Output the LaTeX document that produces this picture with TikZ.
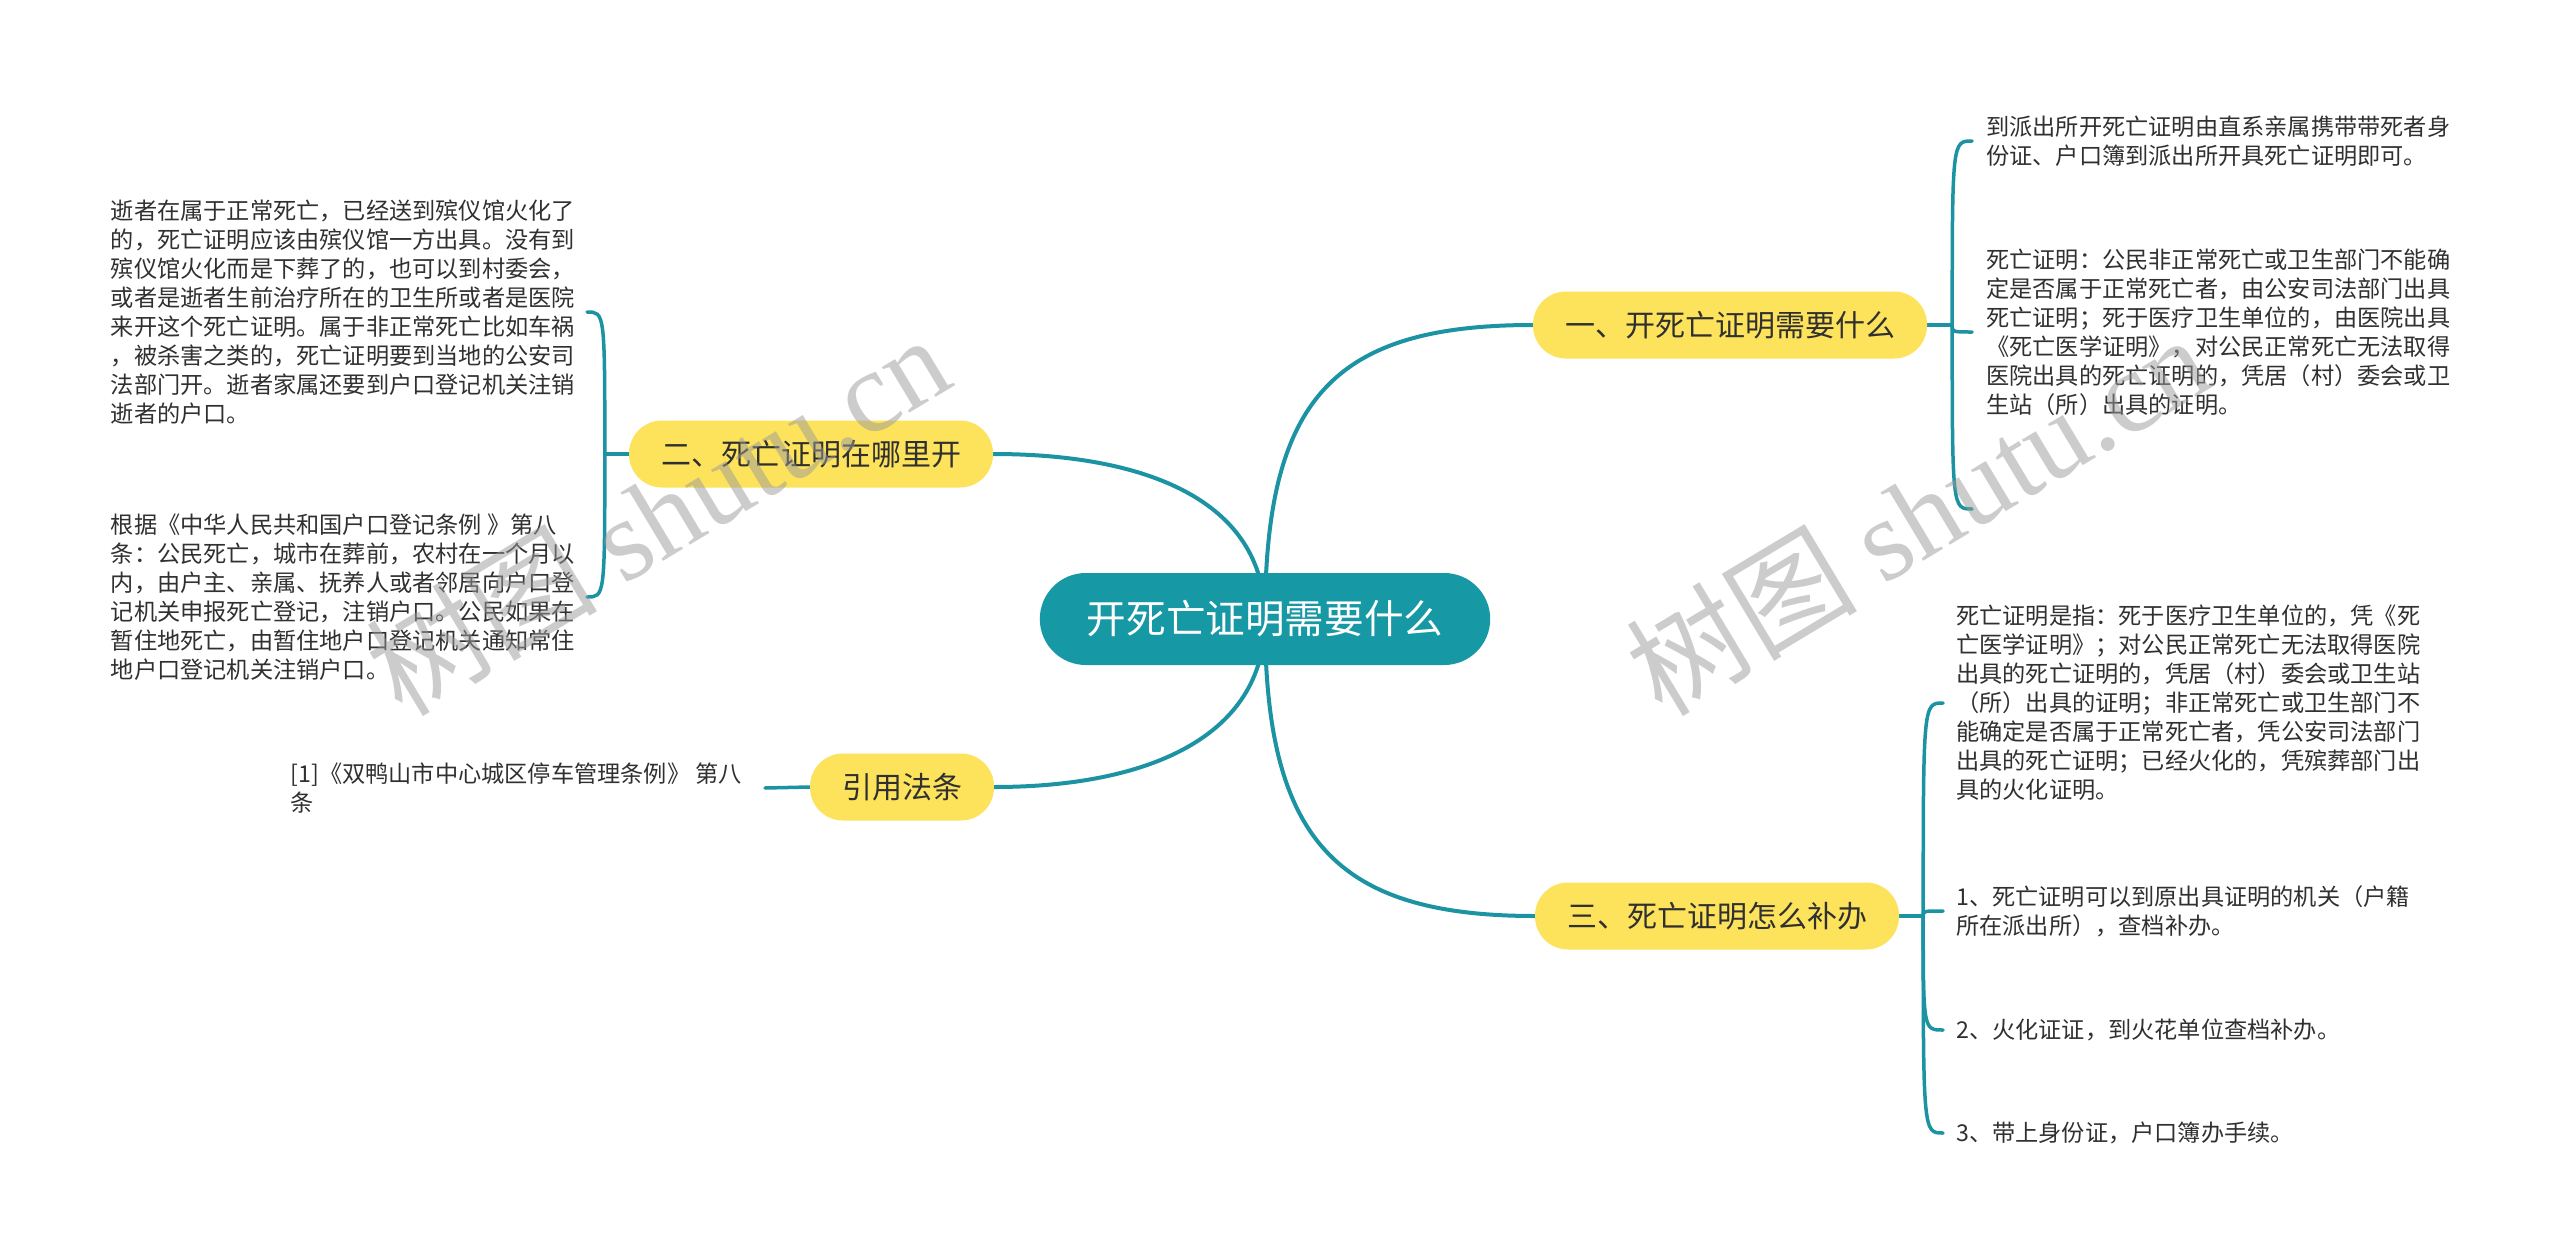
\documentclass[tikz,border=0pt]{standalone}
\usepackage{fontspec}
\setmainfont{Noto Sans CJK SC}
\newfontfamily\wmlatin{Liberation Serif}
\usetikzlibrary{calc}
\pgfdeclarelayer{bg}
\pgfdeclarelayer{paper}
\pgfsetlayers{paper,bg,main}
\definecolor{teal1}{HTML}{1798A5}
\definecolor{line1}{HTML}{1B93A3}
\definecolor{yel}{HTML}{FDE35C}
\definecolor{txt}{HTML}{303030}
\definecolor{wm}{HTML}{9A9A9A}
\begin{document}
\begin{tikzpicture}[x=1pt,y=-1pt,
  rootbox/.style={rounded corners=46pt, fill=teal1, text=white, minimum height=92pt, inner xsep=47pt, inner ysep=0pt, font=\fontsize{39.6pt}{46pt}\selectfont},
  branch/.style={rounded corners=33pt, fill=yel, text=txt, minimum height=67pt, inner xsep=32pt, inner ysep=0pt, font=\fontsize{30pt}{36pt}\selectfont},
  leaf/.style={text=txt, align=left, inner xsep=12pt, inner ysep=0pt, font=\fontsize{23.2pt}{29pt}\selectfont},
  conn/.style={draw=line1, line width=4pt, line cap=round},
  brk/.style={draw=line1, line width=3.5pt, line cap=round},
  wmark/.style={text=wm, opacity=0.5, rotate=31, inner sep=0pt, font=\fontsize{116pt}{116pt}\selectfont}
]
\begin{pgfonlayer}{paper}
\fill[white] (0,0) rectangle (2560,1255);
\end{pgfonlayer}
\useasboundingbox (0,0) rectangle (2560,1255);

% root and branches
\node[rootbox] (root) at (1265,619) {开死亡证明需要什么};
\node[branch] (b1) at (1730,325) {一、开死亡证明需要什么};
\node[branch] (b2) at (811,454) {二、死亡证明在哪里开};
\node[branch] (b4) at (902,787) {引用法条};
\node[branch] (b3) at (1717,916) {三、死亡证明怎么补办};

% left leaves
\node[leaf, anchor=east] (l1) at (587,312) {逝者在属于正常死亡，已经送到殡仪馆火化了\\的，死亡证明应该由殡仪馆一方出具。没有到\\殡仪馆火化而是下葬了的，也可以到村委会，\\或者是逝者生前治疗所在的卫生所或者是医院\\来开这个死亡证明。属于非正常死亡比如车祸\\，被杀害之类的，死亡证明要到当地的公安司\\法部门开。逝者家属还要到户口登记机关注销\\逝者的户口。};
\node[leaf, anchor=east] (l2) at (587,597) {根据《中华人民共和国户口登记条例 》第八\\条：公民死亡，城市在葬前，农村在一个月以\\内，由户主、亲属、抚养人或者邻居向户口登\\记机关申报死亡登记，注销户口。公民如果在\\暂住地死亡，由暂住地户口登记机关通知常住\\地户口登记机关注销户口。};
\node[leaf, anchor=east, inner xsep=23pt] (ref) at (765,788) {[1]《双鸭山市中心城区停车管理条例》 第八\\条};

% right leaves
\node[leaf, anchor=west, inner xsep=14pt] (r1a) at (1972,141) {到派出所开死亡证明由直系亲属携带带死者身\\份证、户口簿到派出所开具死亡证明即可。};
\node[leaf, anchor=west, inner xsep=14pt] (r1b) at (1972,332) {死亡证明：公民非正常死亡或卫生部门不能确\\定是否属于正常死亡者，由公安司法部门出具\\死亡证明；死于医疗卫生单位的，由医院出具\\《死亡医学证明》，对公民正常死亡无法取得\\医院出具的死亡证明的，凭居（村）委会或卫\\生站（所）出具的证明。};
\coordinate (r1c) at (1972,509);

\node[leaf, anchor=west, inner xsep=13pt] (r3a) at (1943,703) {死亡证明是指：死于医疗卫生单位的，凭《死\\亡医学证明》；对公民正常死亡无法取得医院\\出具的死亡证明的，凭居（村）委会或卫生站\\（所）出具的证明；非正常死亡或卫生部门不\\能确定是否属于正常死亡者，凭公安司法部门\\出具的死亡证明；已经火化的，凭殡葬部门出\\具的火化证明。};
\node[leaf, anchor=west, inner xsep=13pt] (r3b) at (1943,911) {1、死亡证明可以到原出具证明的机关（户籍\\所在派出所），查档补办。};
\node[leaf, anchor=west, inner xsep=13pt] (r3c) at (1943,1030) {2、火化证证，到火花单位查档补办。};
\node[leaf, anchor=west, inner xsep=13pt] (r3d) at (1943,1133) {3、带上身份证，户口簿办手续。};

\begin{pgfonlayer}{bg}
\draw[conn] (root.center) .. controls +(0,-220) and +(-200,0) .. (b1.west);
\draw[conn] (root.center) .. controls +(0,220) and +(-200,0) .. (b3.west);
\draw[conn] (b2.east) .. controls +(150,0) and +(0,-120) .. (root.center);
\draw[conn] (b4.east) .. controls +(150,0) and +(0,120) .. (root.center);

\coordinate (j1) at ($(b1.east)+(25,0)$);
\draw[brk] (b1.east) -- (j1);
\draw[brk] (j1) .. controls (j1 |- r1a.west) and (j1 |- r1a.west) .. (r1a.west);
\draw[brk] (j1) .. controls (j1 |- r1b.west) and (j1 |- r1b.west) .. (r1b.west);
\draw[brk] (j1) .. controls (j1 |- r1c) and (j1 |- r1c) .. (r1c);

\coordinate (j2) at ($(b2.west)+(-24,0)$);
\draw[brk] (b2.west) -- (j2);
\draw[brk] (j2) .. controls (j2 |- l1.east) and (j2 |- l1.east) .. (l1.east);
\draw[brk] (j2) .. controls (j2 |- l2.east) and (j2 |- l2.east) .. (l2.east);

\draw[brk] (b4.west) -- (ref.east);

\coordinate (j3) at ($(b3.east)+(24,0)$);
\draw[brk] (b3.east) -- (j3);
\draw[brk] (j3) .. controls (j3 |- r3a.west) and (j3 |- r3a.west) .. (r3a.west);
\draw[brk] (j3) .. controls (j3 |- r3b.west) and (j3 |- r3b.west) .. (r3b.west);
\draw[brk] (j3) .. controls (j3 |- r3c.west) and (j3 |- r3c.west) .. (r3c.west);
\draw[brk] (j3) .. controls (j3 |- r3d.west) and (j3 |- r3d.west) .. (r3d.west);
\end{pgfonlayer}

% watermarks
\node[wmark] (wm1) at (657,514) {树图 {\wmlatin shutu.cn}};
\node[wmark] (wm2) at (1917,514) {树图 {\wmlatin shutu.cn}};
\end{tikzpicture}
\end{document}
